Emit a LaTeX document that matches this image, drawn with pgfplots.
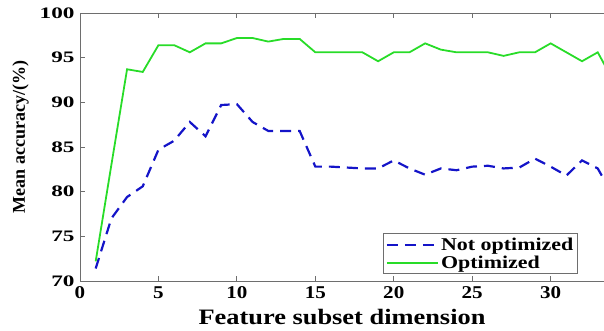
\documentclass[border=0pt]{standalone}
\usepackage{fontspec}
\setmainfont{Liberation Serif}
\newfontfamily\xtickfont[FakeStretch=1.17]{Liberation Serif}
\newfontfamily\ytickfont[FakeStretch=1.45]{Liberation Serif}
\newfontfamily\legfont[FakeStretch=1.22]{Liberation Serif}
\newfontfamily\xlabfont[FakeStretch=1.2]{Liberation Serif}
\usepackage{pgfplots}
\pgfplotsset{compat=1.18}
\definecolor{optgreen}{RGB}{40,220,40}
\definecolor{notblue}{RGB}{20,20,200}
\definecolor{axgray}{RGB}{110,110,110}
\pgfplotstableread{
x y
1 71.4
2 77.0
3 79.4
4 80.6
5 84.7
6 85.7
7 87.8
8 86.2
9 89.7
10 89.8
11 87.8
12 86.8
13 86.8
14 86.8
15 82.8
16 82.8
17 82.7
18 82.6
19 82.6
20 83.5
21 82.6
22 81.9
23 82.6
24 82.4
25 82.8
26 82.9
27 82.6
28 82.7
29 83.7
30 82.8
31 81.8
32 83.5
33 82.6
34 79.5
}\notopt
\pgfplotstableread{
x y
1 72.2
2 83.0
3 93.7
4 93.4
5 96.4
6 96.4
7 95.6
8 96.6
9 96.6
10 97.2
11 97.2
12 96.8
13 97.1
14 97.1
15 95.6
16 95.6
17 95.6
18 95.6
19 94.6
20 95.6
21 95.6
22 96.6
23 95.9
24 95.6
25 95.6
26 95.6
27 95.2
28 95.6
29 95.6
30 96.6
31 95.6
32 94.6
33 95.6
34 92.4
}\opt
\begin{document}
\begin{tikzpicture}
\begin{axis}[
  scale only axis,
  width=524bp, height=268bp,
  xmin=0, xmax=33.4, ymin=70, ymax=100,
  xtick={0,5,...,30}, ytick={70,75,...,100},
  axis y line*=left,
  axis line style={axgray, line width=0.9pt},
  tick style={axgray, line width=0.8pt},
  major tick length=5bp,
  tick align=inside,
  xtick pos=both,
  /pgf/number format/assume math mode=true,
  xticklabel style={font=\xtickfont\fontsize{18bp}{18bp}\selectfont\bfseries, yshift=-2bp},
  yticklabel style={font=\ytickfont\fontsize{16bp}{16bp}\selectfont\bfseries, xshift=-2bp},
  xlabel={\xlabfont\fontsize{22bp}{22bp}\selectfont\bfseries Feature subset dimension},
  ylabel={\fontsize{18bp}{18bp}\selectfont\bfseries Mean accuracy/(\%)},
  xlabel style={yshift=-4bp},
  ylabel style={yshift=4bp, xshift=10bp},
  legend style={at={(rel axis cs:0.950,0.026)}, anchor=south east,
    draw=axgray, line width=0.8pt, font=\legfont\fontsize{18bp}{18bp}\selectfont\bfseries,
    inner sep=2bp, row sep=0bp, legend cell align=left},
  legend image code/.code={\draw[#1] (0bp,0bp) -- (51bp,0bp);},
]
\addplot[notblue, line width=2.2pt, dash pattern=on 11bp off 7bp] table {\notopt};
\addlegendentry{Not optimized}
\addplot[optgreen, line width=1.8pt] table {\opt};
\addlegendentry{Optimized}
\end{axis}
\pgfresetboundingbox
\path (-80bp,-50bp) rectangle (524bp,281bp);
\end{tikzpicture}
\end{document}
